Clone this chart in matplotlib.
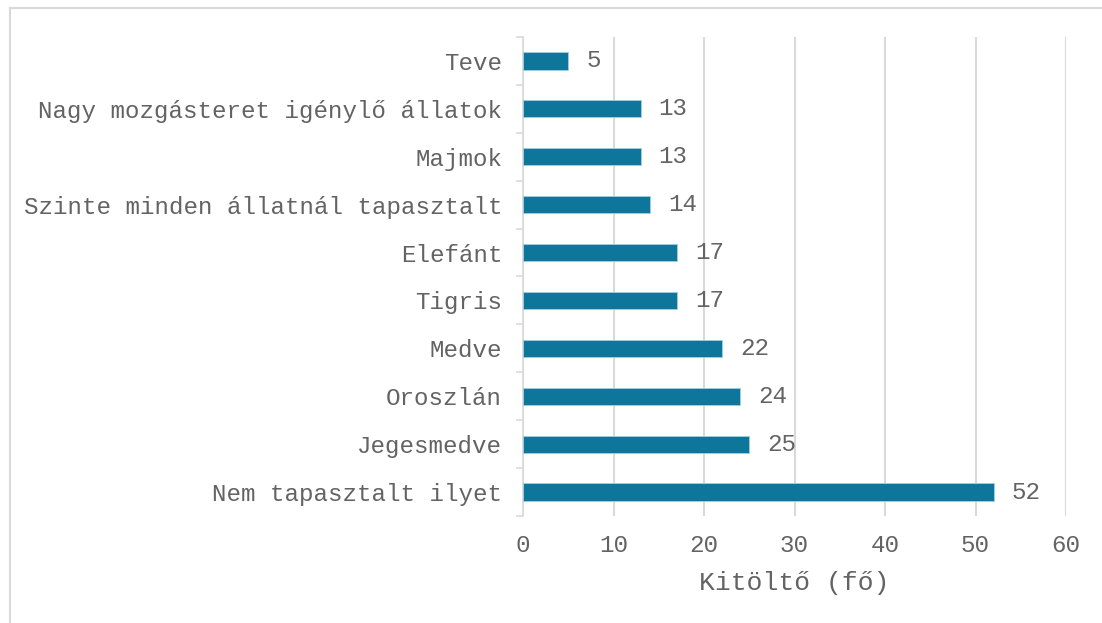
import matplotlib
matplotlib.use("Agg")
import matplotlib.pyplot as plt
from matplotlib.lines import Line2D
import numpy as np

categories = ["Teve", "Nagy mozgásteret igénylő állatok", "Majmok",
              "Szinte minden állatnál tapasztalt", "Elefánt", "Tigris",
              "Medve", "Oroszlán", "Jegesmedve", "Nem tapasztalt ilyet"]
values = [5, 13, 13, 14, 17, 17, 22, 24, 25, 52]
x_ticks = [0, 10, 20, 30, 40, 50, 60]
x_label = "Kitöltő (fő)"

plt.rcParams['font.family'] = ['Liberation Mono', 'DejaVu Sans Mono']
txt = '#636363'
bar_color = '#0e769a'
grid_c = '#d9d9d9'

fig = plt.figure(figsize=(11.02, 6.23), dpi=100)
ax = fig.add_axes([523/1102, 1-516/623, (1066-523)/1102, (516-37)/623])

n = len(categories)
ypos = np.arange(n)[::-1]
ax.barh(ypos, values, height=0.36, color=bar_color, edgecolor='#9fd0e0', linewidth=0.6, zorder=3)
for y, v in zip(ypos, values):
    ax.annotate(str(v), (v, y), xytext=(13, 0), textcoords='offset points',
                va='center', ha='left', fontsize=17.4, color=txt)

ax.set_xlim(0, 60)
ax.set_ylim(-0.5, n-0.5)
ax.set_xticks(x_ticks)
ax.set_xticklabels([str(t) for t in x_ticks])
ax.set_yticks(ypos)
ax.set_yticklabels(categories)
ax.set_yticks(np.arange(-0.5, n, 1.0), minor=True)
ax.tick_params(axis='y', which='major', length=0, pad=15, labelsize=17.4, labelcolor=txt)
ax.tick_params(axis='y', which='minor', length=5, width=1.2, color=grid_c, direction='out')
ax.tick_params(axis='x', length=0, pad=13, labelsize=17.4, labelcolor=txt)
ax.grid(axis='x', color=grid_c, linewidth=1.5, zorder=0)
ax.set_axisbelow(True)
for s in ['top', 'right', 'bottom']:
    ax.spines[s].set_visible(False)
ax.spines['left'].set_color(grid_c)
ax.spines['left'].set_linewidth(1.2)
ax.set_xlabel(x_label, fontsize=19, color=txt, labelpad=10)

# chart border
fig.add_artist(Line2D([9.5/1102, 9.5/1102], [0, 1-7.5/623], transform=fig.transFigure, color=grid_c, linewidth=1.5))
fig.add_artist(Line2D([9.5/1102, 1], [1-7.5/623, 1-7.5/623], transform=fig.transFigure, color=grid_c, linewidth=1.5))

fig.savefig("out.png", dpi=100, facecolor='white')
